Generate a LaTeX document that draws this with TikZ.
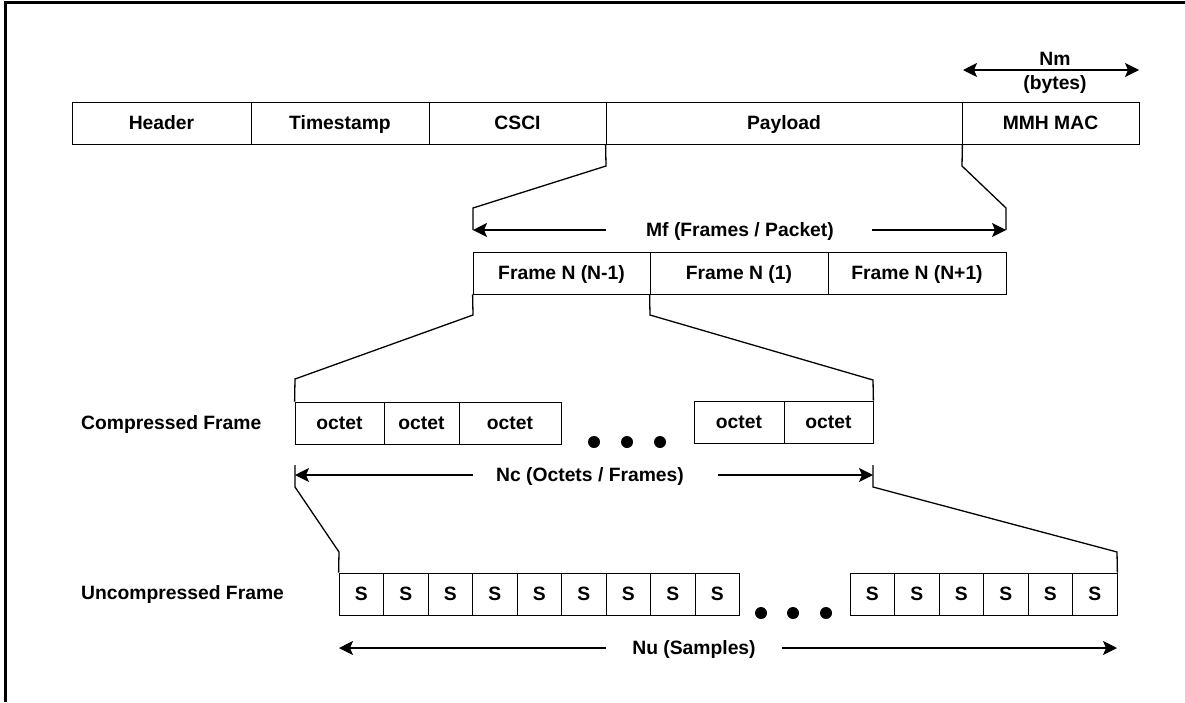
\documentclass[tikz,border=0pt]{standalone}
\usepackage{fontspec}
\setmainfont{Liberation Sans}
\usetikzlibrary{arrows.meta}
\begin{document}
\begin{tikzpicture}[x=1pt,y=-1pt,
  cell/.style={draw, line width=0.8pt, inner sep=0pt, minimum height=42pt, text height=13.9pt, text depth=0pt, font=\fontsize{19.3}{22}\selectfont\bfseries},
  lbl/.style={inner sep=0pt, text height=13.9pt, text depth=0pt, font=\fontsize{19.3}{22}\selectfont\bfseries},
  conn/.style={line width=1.3pt, line join=miter},
  tip/.tip={Stealth[length=14pt,width=14pt,inset=3pt]},
  dim/.style={line width=1.3pt, -tip},
  dotc/.style={circle, fill, inner sep=0pt, minimum size=12pt}]
\useasboundingbox (0,0) rectangle (1185,702);
\draw[line width=3pt] (5,702) -- (5,2) -- (1185,2);

% top row
\node[cell, minimum width=179pt] (hdr)  at (161.5,123) {Header};
\node[cell, minimum width=178pt] (ts)   at (340,123)   {Timestamp};
\node[cell, minimum width=177pt] (csci) at (517.5,123) {CSCI};
\node[cell, minimum width=356pt] (pay)  at (784,123)   {Payload};
\node[cell, minimum width=177pt] (mac)  at (1050.5,123){MMH MAC};

% Nm
\node[lbl] (nm) at (1055,59) {Nm};
\node[lbl] (nmb) at (1055,83) {(bytes)};
\coordinate (nmL) at (963,70);
\coordinate (nmR) at (1139,70);
\draw[line width=1.3pt, tip-tip] (nmL) -- (nmR);

% payload brackets
\coordinate (b1) at (606,166);
\coordinate (b2) at (473,208);
\coordinate (mfL) at (473,230);
\coordinate (b3) at (962,166);
\coordinate (b4) at (1006,208);
\coordinate (mfR) at (1006,230);
\draw[conn] (pay.south west) -- (b1) -- (b2) -- (mfL);
\draw[conn] (pay.south east) -- (b3) -- (b4) -- (mfR);
\node[lbl] (mf) at (740,230) {Mf (Frames / Packet)};
\coordinate (mfLs) at (606,230);
\coordinate (mfRs) at (872,230);
\draw[dim] (mfLs) -- (mfL);
\draw[dim] (mfRs) -- (mfR);

% frame row
\node[cell, minimum width=177pt] (f1) at (561.5,273) {Frame N (N-1)};
\node[cell, minimum width=178pt] (f2) at (739,273)   {Frame N (1)};
\node[cell, minimum width=178pt] (f3) at (917,273)   {Frame N (N+1)};

% compressed row
\node[lbl, anchor=west] (cl) at (81,423) {Compressed Frame};
\node[cell, minimum width=89pt]  (o1) at (339.5,423) {octet};
\node[cell, minimum width=75pt]  (o2) at (421.5,423) {octet};
\node[cell, minimum width=102pt] (o3) at (510,423)   {octet};
\node[cell, minimum width=90pt]  (o4) at (739,422)   {octet};
\node[cell, minimum width=89pt]  (o5) at (828.5,422) {octet};
\node[dotc] (d1) at (594,442) {};
\node[dotc] (d2) at (627,442) {};
\node[dotc] (d3) at (660,442) {};

\coordinate (c1) at (473,315);
\coordinate (c2) at (295,379);
\coordinate (c3) at (650,315);
\coordinate (c4) at (873,380);
\draw[conn] (f1.south west) -- (c1) -- (c2) -- (o1.north west);
\draw[conn] (f2.south west) -- (c3) -- (c4) -- (o5.north east);

% Nc
\node[lbl] (nc) at (590,475) {Nc (Octets / Frames)};
\coordinate (ncL) at (295,475);
\coordinate (ncR) at (873,475);
\coordinate (ncLs) at (473,475);
\coordinate (ncRs) at (718,475);
\draw[dim] (ncLs) -- (ncL);
\draw[dim] (ncRs) -- (ncR);
\coordinate (e0) at (295,465);
\coordinate (e1) at (295,487);
\coordinate (e2) at (339,552);
\coordinate (e3) at (873,465);
\coordinate (e4) at (873,487);
\coordinate (e5) at (1117,552);

% uncompressed row
\node[lbl, anchor=west] (ul) at (81,593) {Uncompressed Frame};
\foreach \i in {1,...,9} {
  \node[cell, minimum width=44.5pt] (s\i) at ({339+44.5*(\i-1)+22.25},594) {S};
}
\foreach \i in {1,...,6} {
  \node[cell, minimum width=44.5pt] (t\i) at ({850+44.5*(\i-1)+22.25},594) {S};
}
\node[dotc] (d4) at (761,613) {};
\node[dotc] (d5) at (793,613) {};
\node[dotc] (d6) at (826,613) {};

\draw[conn] (e0) -- (e1) -- (e2) -- (s1.north west);
\draw[conn] (e3) -- (e4) -- (e5) -- (t6.north east);

% Nu
\node[lbl] (nu) at (694,648) {Nu (Samples)};
\coordinate (nuL) at (339,648);
\coordinate (nuR) at (1117,648);
\coordinate (nuLs) at (606,648);
\coordinate (nuRs) at (782,648);
\draw[dim] (nuLs) -- (nuL);
\draw[dim] (nuRs) -- (nuR);
\end{tikzpicture}
\end{document}
